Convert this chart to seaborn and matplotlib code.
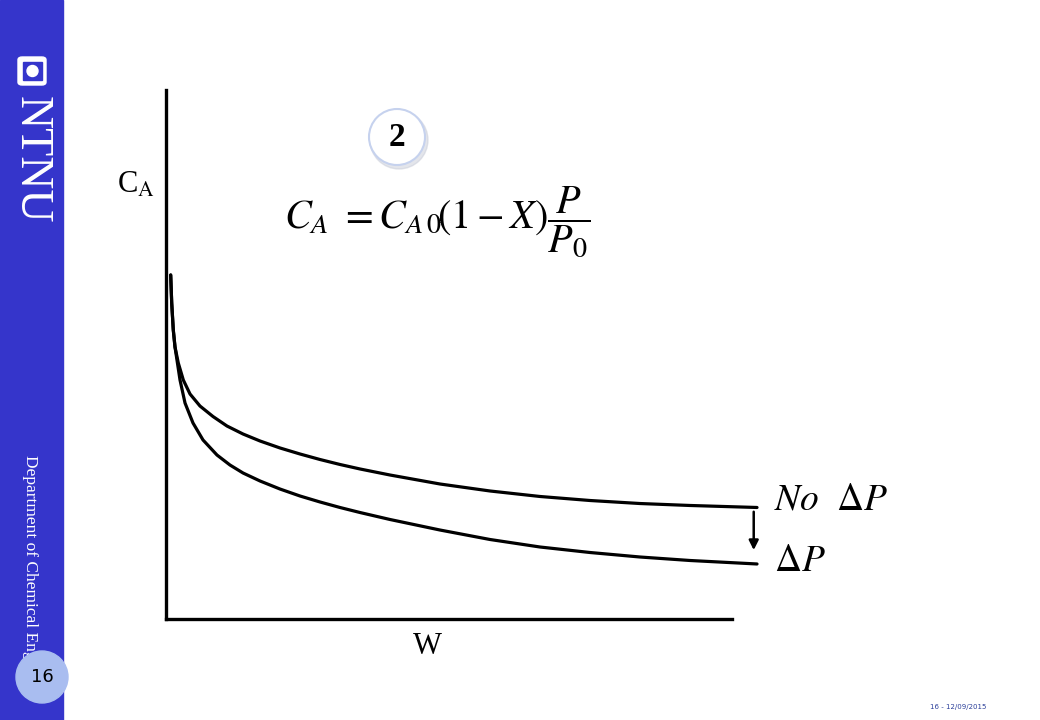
import pandas as pd
import matplotlib.pyplot as plt
from matplotlib.patches import Rectangle, Ellipse, FancyBboxPatch
import seaborn as sns

sns.set_style('white')
plt.rcParams['font.family'] = ['Liberation Serif', 'DejaVu Serif']
plt.rcParams['mathtext.fontset'] = 'stix'
plt.rcParams['text.color'] = 'black'

# schematic curves, W vs C_A (arbitrary units)
w_no_dp = [0.74, 0.90, 1.15, 1.42, 1.94, 2.73, 3.79, 5.36, 7.41, 9.62, 12.15, 14.83,
           17.98, 21.14, 24.29, 27.44, 30.60, 35.33, 43.22, 51.10, 58.99, 66.88,
           74.76, 82.65, 93.22]
ca_no_dp = [65.03, 59.74, 54.63, 51.42, 48.39, 45.18, 42.53, 40.26, 38.28, 36.48,
            34.97, 33.65, 32.33, 31.19, 30.15, 29.21, 28.36, 27.22, 25.52, 24.20,
            23.16, 22.40, 21.83, 21.46, 21.08]
w_dp = [0.74, 0.90, 1.15, 1.42, 2.21, 3.00, 4.26, 5.84, 8.04, 10.09, 12.15, 14.83,
        17.98, 21.14, 24.29, 27.44, 30.60, 35.33, 43.22, 51.10, 58.99, 66.88,
        74.76, 82.65, 93.22]
ca_dp = [65.03, 59.74, 54.63, 51.42, 45.18, 40.83, 37.05, 33.84, 31.00, 29.11,
         27.60, 26.09, 24.57, 23.25, 22.12, 21.08, 20.13, 18.81, 16.82, 15.03,
         13.61, 12.57, 11.72, 11.06, 10.40]

df = pd.concat([
    pd.DataFrame({'W': w_no_dp, 'CA': ca_no_dp, 'case': 'No dP'}),
    pd.DataFrame({'W': w_dp, 'CA': ca_dp, 'case': 'dP'}),
])

W, H = 1040, 720
fig = plt.figure(figsize=(10.4, 7.2), dpi=100)

def fx(px):
    return px / W

def fy(py):
    return 1 - py / H

# left sidebar
blue = '#3535CB'
fig.patches.append(Rectangle((0, 0), fx(63), 1, transform=fig.transFigure,
                             color=blue, zorder=0))
fig.patches.append(FancyBboxPatch((fx(18), fy(85)), fx(28), 28 / H,
                                  boxstyle='round,pad=0,rounding_size=0.004',
                                  transform=fig.transFigure, color='white', zorder=1))
fig.patches.append(Rectangle((fx(23), fy(80)), fx(19), 18 / H,
                             transform=fig.transFigure, color=blue, zorder=2))
fig.patches.append(Ellipse((fx(32.5), fy(71)), 11 / W, 11 / H,
                           transform=fig.transFigure, color='white', zorder=3))
fig.text(fx(31), fy(160), 'NTNU', rotation=-90, color='white', fontsize=33,
         ha='center', va='center')
fig.text(fx(30), fy(455), 'Department of Chemical Engin', rotation=-90,
         color='white', fontsize=12.5, ha='center', va='top')
fig.patches.append(Ellipse((fx(42), fy(677)), 52 / W, 52 / H,
                           transform=fig.transFigure, color='#A9BDF0', zorder=5))
fig.text(fx(42), fy(677), '16', fontsize=13, family='DejaVu Sans',
         ha='center', va='center', zorder=6)
fig.text(fx(958), fy(707), '16 - 12/09/2015', fontsize=5, family='DejaVu Sans',
         color='#2B3F9A', ha='center', va='center')

# circled step number
fig.patches.append(Ellipse((fx(399), fy(140)), 58 / W, 58 / H,
                           transform=fig.transFigure, color='#C8CCD8', alpha=0.5, zorder=1))
fig.patches.append(Ellipse((fx(397), fy(137)), 56 / W, 56 / H,
                           transform=fig.transFigure, facecolor='white',
                           edgecolor='#C6D2EE', lw=1.5, zorder=2))
fig.text(fx(397), fy(137), '2', fontsize=24, fontweight='bold',
         ha='center', va='center', zorder=3)

# main plot
ax = fig.add_axes([fx(166), fy(619), fx(800 - 166), (619 - 90) / H])
sns.lineplot(data=df, x='W', y='CA', hue='case', palette=['black', 'black'],
             estimator=None, sort=False, legend=False, lw=2.3, ax=ax)
ax.set_xlim(0, 100)
ax.set_ylim(0, 100)
ax.patch.set_alpha(0)
sns.despine(ax=ax)
for s in ['left', 'bottom']:
    ax.spines[s].set_linewidth(2.4)
    ax.spines[s].set_color('black')
ax.spines['bottom'].set_bounds(0, 89.3)
ax.set_xticks([])
ax.set_yticks([])
ax.set_xlabel('')
ax.set_ylabel('')

ax.annotate('', xy=(92.7, 12.5), xytext=(92.7, 20.8),
            arrowprops=dict(arrowstyle='-|>', color='black', lw=1.8,
                            mutation_scale=14))

fig.text(fx(117), fy(185), r'C$_{\mathrm{A}}$', fontsize=22, ha='left', va='center')
fig.text(fx(427), fy(646), 'W', fontsize=22, ha='center', va='center')
fig.text(fx(437), fy(222), r'$C_A\ = C_{A\,0}\!\left(1 - X\right)\dfrac{P}{P_0}$',
         fontsize=29, ha='center', va='center')
fig.text(fx(774), fy(500), r'$No\ \ \Delta P$', fontsize=27, ha='left', va='center')
fig.text(fx(774), fy(562), r'$\Delta P$', fontsize=27, ha='left', va='center')

fig.savefig('out.png', dpi=100)
